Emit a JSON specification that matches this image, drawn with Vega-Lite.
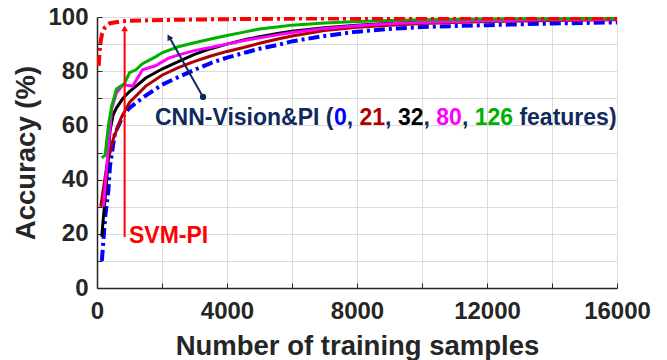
{
  "$schema": "https://vega.github.io/schema/vega-lite/v6.json",
  "width": 520,
  "height": 271,
  "autosize": "none",
  "padding": {"left": 97, "top": 17, "right": 50, "bottom": 72},
  "background": "white",
  "config": {"view": {"stroke": null}, "font": "Liberation Sans"},
  "datasets": {
    "curves": [
      {"s": "0", "x": 150, "y": 10}, {"s": "0", "x": 250, "y": 26}, {"s": "0", "x": 350, "y": 36}, {"s": "0", "x": 400, "y": 45}, {"s": "0", "x": 550, "y": 57}, {"s": "0", "x": 800, "y": 63.5}, {"s": "0", "x": 1000, "y": 66.5}, {"s": "0", "x": 1500, "y": 71}, {"s": "0", "x": 2000, "y": 75}, {"s": "0", "x": 2500, "y": 77.8}, {"s": "0", "x": 3000, "y": 80.5}, {"s": "0", "x": 3500, "y": 83}, {"s": "0", "x": 4000, "y": 85}, {"s": "0", "x": 4600, "y": 87}, {"s": "0", "x": 5000, "y": 88.3}, {"s": "0", "x": 5600, "y": 89.8}, {"s": "0", "x": 6000, "y": 91}, {"s": "0", "x": 7000, "y": 93}, {"s": "0", "x": 8000, "y": 94.6}, {"s": "0", "x": 9000, "y": 95.6}, {"s": "0", "x": 10000, "y": 96.3}, {"s": "0", "x": 12000, "y": 97}, {"s": "0", "x": 14000, "y": 97.6}, {"s": "0", "x": 16000, "y": 98},
      {"s": "21", "x": 115, "y": 30}, {"s": "21", "x": 300, "y": 45}, {"s": "21", "x": 500, "y": 55}, {"s": "21", "x": 750, "y": 63}, {"s": "21", "x": 1000, "y": 68.5}, {"s": "21", "x": 1500, "y": 74.5}, {"s": "21", "x": 2000, "y": 78.5}, {"s": "21", "x": 2500, "y": 81.3}, {"s": "21", "x": 3000, "y": 83.6}, {"s": "21", "x": 3500, "y": 85.6}, {"s": "21", "x": 4000, "y": 87.3}, {"s": "21", "x": 4600, "y": 89}, {"s": "21", "x": 5000, "y": 90.3}, {"s": "21", "x": 5600, "y": 92}, {"s": "21", "x": 6000, "y": 93}, {"s": "21", "x": 7000, "y": 95}, {"s": "21", "x": 8000, "y": 96.2}, {"s": "21", "x": 9000, "y": 97}, {"s": "21", "x": 10000, "y": 97.6}, {"s": "21", "x": 12000, "y": 98.3}, {"s": "21", "x": 14000, "y": 98.7}, {"s": "21", "x": 16000, "y": 99},
      {"s": "32", "x": 145, "y": 19}, {"s": "32", "x": 300, "y": 40}, {"s": "32", "x": 400, "y": 58}, {"s": "32", "x": 500, "y": 64}, {"s": "32", "x": 600, "y": 66.5}, {"s": "32", "x": 800, "y": 70}, {"s": "32", "x": 1000, "y": 72.5}, {"s": "32", "x": 1500, "y": 77.5}, {"s": "32", "x": 2000, "y": 80.8}, {"s": "32", "x": 2500, "y": 83.5}, {"s": "32", "x": 3000, "y": 86.2}, {"s": "32", "x": 3500, "y": 88.3}, {"s": "32", "x": 4000, "y": 90}, {"s": "32", "x": 4600, "y": 91.8}, {"s": "32", "x": 5000, "y": 92.7}, {"s": "32", "x": 5600, "y": 94}, {"s": "32", "x": 6000, "y": 94.7}, {"s": "32", "x": 7000, "y": 96}, {"s": "32", "x": 8000, "y": 97}, {"s": "32", "x": 9000, "y": 97.7}, {"s": "32", "x": 10000, "y": 98.2}, {"s": "32", "x": 12000, "y": 98.7}, {"s": "32", "x": 14000, "y": 99}, {"s": "32", "x": 16000, "y": 99.2},
      {"s": "80", "x": 200, "y": 30}, {"s": "80", "x": 350, "y": 52}, {"s": "80", "x": 450, "y": 66}, {"s": "80", "x": 600, "y": 72}, {"s": "80", "x": 800, "y": 75}, {"s": "80", "x": 1100, "y": 74.5}, {"s": "80", "x": 1400, "y": 80.5}, {"s": "80", "x": 1800, "y": 82}, {"s": "80", "x": 2200, "y": 84.8}, {"s": "80", "x": 2600, "y": 86.3}, {"s": "80", "x": 3000, "y": 87.6}, {"s": "80", "x": 3600, "y": 89}, {"s": "80", "x": 4000, "y": 90}, {"s": "80", "x": 4600, "y": 91.5}, {"s": "80", "x": 5000, "y": 92.3}, {"s": "80", "x": 5600, "y": 93.5}, {"s": "80", "x": 6000, "y": 94.3}, {"s": "80", "x": 7000, "y": 95.8}, {"s": "80", "x": 8000, "y": 96.8}, {"s": "80", "x": 9000, "y": 97.5}, {"s": "80", "x": 10000, "y": 98}, {"s": "80", "x": 12000, "y": 98.6}, {"s": "80", "x": 14000, "y": 99}, {"s": "80", "x": 16000, "y": 99.2},
      {"s": "126", "x": 145, "y": 48}, {"s": "126", "x": 250, "y": 49}, {"s": "126", "x": 350, "y": 60}, {"s": "126", "x": 450, "y": 67}, {"s": "126", "x": 600, "y": 73.5}, {"s": "126", "x": 850, "y": 75.5}, {"s": "126", "x": 1000, "y": 79.5}, {"s": "126", "x": 1200, "y": 80.5}, {"s": "126", "x": 1400, "y": 82.8}, {"s": "126", "x": 1800, "y": 85.3}, {"s": "126", "x": 2000, "y": 86.8}, {"s": "126", "x": 2500, "y": 89}, {"s": "126", "x": 3000, "y": 90.5}, {"s": "126", "x": 3500, "y": 91.9}, {"s": "126", "x": 4000, "y": 93.2}, {"s": "126", "x": 4600, "y": 94.6}, {"s": "126", "x": 5000, "y": 95.6}, {"s": "126", "x": 5600, "y": 96.4}, {"s": "126", "x": 6000, "y": 97}, {"s": "126", "x": 7000, "y": 97.8}, {"s": "126", "x": 8000, "y": 98.3}, {"s": "126", "x": 9000, "y": 98.7}, {"s": "126", "x": 10000, "y": 99}, {"s": "126", "x": 12000, "y": 99.3}, {"s": "126", "x": 14000, "y": 99.4}, {"s": "126", "x": 16000, "y": 99.5}
    ],
    "svm": [
      {"s": "SVM", "x": 50, "y": 82}, {"s": "SVM", "x": 100, "y": 90}, {"s": "SVM", "x": 150, "y": 93.5}, {"s": "SVM", "x": 250, "y": 96.3}, {"s": "SVM", "x": 400, "y": 97.7}, {"s": "SVM", "x": 700, "y": 98.3}, {"s": "SVM", "x": 1000, "y": 98.6}, {"s": "SVM", "x": 2000, "y": 98.9}, {"s": "SVM", "x": 4000, "y": 99.2}, {"s": "SVM", "x": 6000, "y": 99.4}, {"s": "SVM", "x": 10000, "y": 99.5}, {"s": "SVM", "x": 16000, "y": 99.6}
    ],
    "label": [
      {"s": "note", "x": 1785, "y": 60.1, "t": "CNN-Vision&PI ("},
      {"s": "0", "x": 7289, "y": 60.1, "t": "0"},
      {"s": "note", "x": 7683, "y": 60.1, "t": ","},
      {"s": "21", "x": 8077, "y": 60.1, "t": "21"},
      {"s": "note", "x": 8865, "y": 60.1, "t": ","},
      {"s": "32", "x": 9259, "y": 60.1, "t": "32"},
      {"s": "note", "x": 10047, "y": 60.1, "t": ","},
      {"s": "80", "x": 10440, "y": 60.1, "t": "80"},
      {"s": "note", "x": 11228, "y": 60.1, "t": ","},
      {"s": "126", "x": 11622, "y": 60.1, "t": "126"},
      {"s": "note", "x": 12997, "y": 60.1, "t": "features)"},
      {"s": "SVM", "x": 985, "y": 16.6, "t": "SVM-PI"}
    ],
    "svmArrow": [{"s": "SVM", "x": 850, "y": 18.8, "y2": 95.5}],
    "svmHead": [{"s": "SVM", "x": 850, "y": 95.8}],
    "cnnArrow": [{"s": "note", "x": 3262, "y": 70.5}, {"s": "note", "x": 2230, "y": 92.4}],
    "cnnHead": [{"s": "note", "x": 2215, "y": 92.6}],
    "cnnDot": [{"s": "note", "x": 3262, "y": 70.5}]
  },
  "encoding": {
    "x": {
      "field": "x", "type": "quantitative",
      "scale": {"domain": [0, 16000], "nice": false},
      "axis": {
        "values": [0, 2000, 4000, 6000, 8000, 10000, 12000, 14000, 16000],
        "format": "d",
        "labelExpr": "datum.value % 4000 === 0 ? datum.label : ''",
        "title": "Number of training samples",
        "grid": true, "gridColor": "#dcdcdc", "gridWidth": 1,
        "domainColor": "#262626", "domainWidth": 1.5,
        "tickColor": "#262626", "tickSize": -5, "tickWidth": 1,
        "labelFontSize": 24, "labelFontWeight": "bold", "labelColor": "#262626", "labelPadding": 16,
        "labelFlush": false, "labelOverlap": false,
        "titleFontSize": 27.5, "titleFontWeight": "bold", "titleColor": "#262626", "titlePadding": 9
      }
    },
    "y": {
      "field": "y", "type": "quantitative",
      "scale": {"domain": [0, 100], "nice": false},
      "axis": {
        "values": [0, 10, 20, 30, 40, 50, 60, 70, 80, 90, 100],
        "labelExpr": "datum.value % 20 === 0 ? datum.label : ''",
        "title": "Accuracy (%)",
        "grid": true, "gridColor": "#dcdcdc", "gridWidth": 1,
        "domainColor": "#262626", "domainWidth": 1.5,
        "tickColor": "#262626", "tickSize": -5, "tickWidth": 1,
        "labelFontSize": 24, "labelFontWeight": "bold", "labelColor": "#262626", "labelPadding": 14,
        "labelFlush": false, "labelOverlap": false,
        "titleFontSize": 27.5, "titleFontWeight": "bold", "titleColor": "#262626", "titlePadding": 7
      }
    }
  },
  "layer": [
    {
      "data": {"name": "curves"},
      "transform": [{"filter": "datum.s === '0'"}],
      "mark": {"type": "line", "strokeWidth": 4, "strokeDash": [11, 4, 3, 4], "clip": true},
      "encoding": {
        "color": {"field": "s", "type": "nominal", "legend": null,
          "scale": {"domain": ["0", "21", "32", "80", "126", "SVM", "note"],
                    "range": ["#0000ff", "#b00000", "#000000", "#ff00ff", "#00b000", "#ff0000", "#112a5e"]}}
      }
    },
    {
      "data": {"name": "curves"},
      "transform": [{"filter": "datum.s !== '0'"}],
      "mark": {"type": "line", "strokeWidth": 3, "clip": true},
      "encoding": {
        "color": {"field": "s", "type": "nominal", "legend": null},
        "detail": {"field": "s"}
      }
    },
    {
      "data": {"name": "svm"},
      "mark": {"type": "line", "strokeWidth": 4, "strokeDash": [11, 4, 3, 4], "clip": true},
      "encoding": {"color": {"field": "s", "type": "nominal", "legend": null}}
    },
    {
      "data": {"name": "svmArrow"},
      "mark": {"type": "rule", "strokeWidth": 2},
      "encoding": {"y2": {"field": "y2"}, "color": {"field": "s", "type": "nominal", "legend": null}}
    },
    {
      "data": {"name": "svmHead"},
      "mark": {"type": "point", "shape": "triangle-up", "filled": true, "size": 45, "opacity": 1},
      "encoding": {"color": {"field": "s", "type": "nominal", "legend": null}}
    },
    {
      "data": {"name": "cnnArrow"},
      "mark": {"type": "line", "strokeWidth": 2},
      "encoding": {"color": {"field": "s", "type": "nominal", "legend": null}}
    },
    {
      "data": {"name": "cnnHead"},
      "mark": {"type": "point", "shape": "triangle-up", "filled": true, "size": 45, "angle": -29.4, "opacity": 1},
      "encoding": {"color": {"field": "s", "type": "nominal", "legend": null}}
    },
    {
      "data": {"name": "cnnDot"},
      "mark": {"type": "point", "shape": "circle", "filled": true, "size": 40, "opacity": 1},
      "encoding": {"color": {"field": "s", "type": "nominal", "legend": null}}
    },
    {
      "data": {"name": "label"},
      "mark": {"type": "text", "align": "left", "baseline": "alphabetic", "fontSize": 23, "fontWeight": "bold"},
      "encoding": {"text": {"field": "t"}, "color": {"field": "s", "type": "nominal", "legend": null}}
    }
  ]
}
